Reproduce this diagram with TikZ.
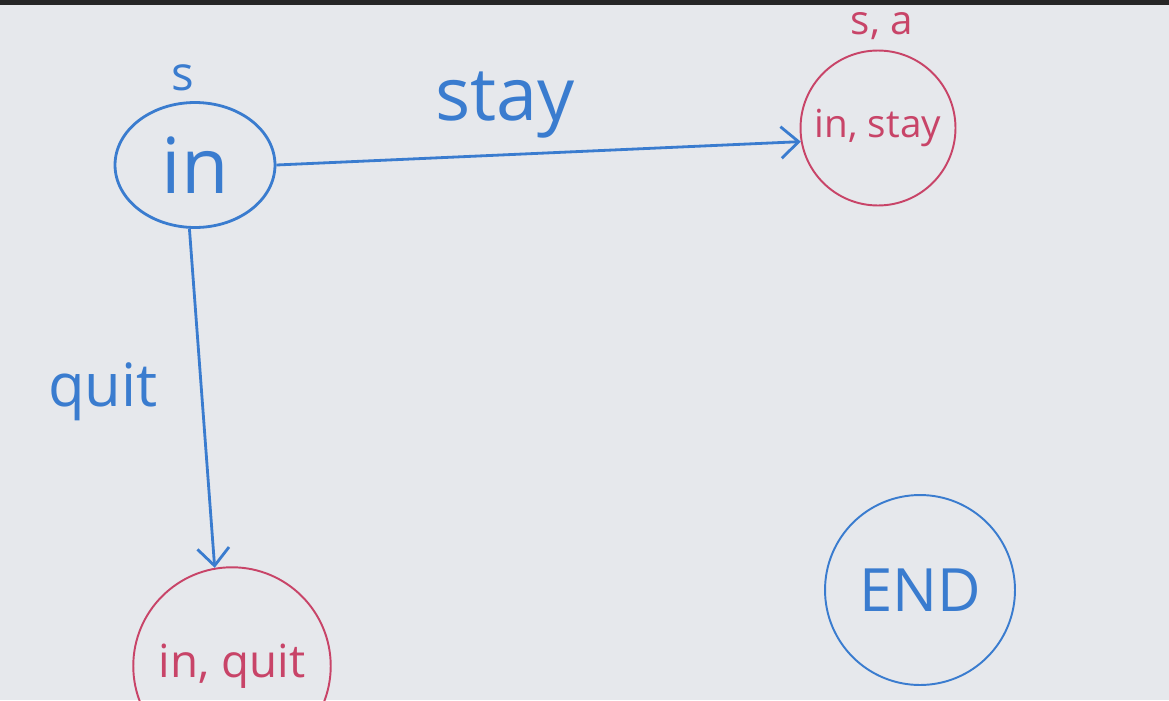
\documentclass[tikz,border=0pt]{standalone}
\usepackage{fontspec}
\setmainfont{Open Sans}
\usetikzlibrary{shapes.geometric,arrows.meta}
\definecolor{boardbg}{HTML}{E6E8EC}
\definecolor{penblue}{HTML}{3A7CCF}
\definecolor{penred}{HTML}{C84468}
\begin{document}
\begin{tikzpicture}[
    x=0.02cm, y=-0.02cm,
    bluestate/.style={draw=penblue, text=penblue, line width=1.6pt, inner sep=0pt},
    redstate/.style={circle, draw=penred, text=penred, line width=1.1pt, inner sep=0pt},
    bluelabel/.style={text=penblue, inner sep=0pt},
    redlabel/.style={text=penred, inner sep=0pt},
    move/.style={draw=penblue, line width=1.6pt, -{Straight Barb[length=10pt,width=18pt]}}
    ]
    % Tabule
    \fill[boardbg] (0,0) rectangle (1169,700);
    \fill[black!85] (0,0) rectangle (1169,5);
    \useasboundingbox (0,0) rectangle (1169,700);

    % Stavy
    \node[bluestate, ellipse, minimum width=3.2cm, minimum height=2.5cm,
        font=\fontsize{44}{44}\selectfont] (in) at (195,165) {in};
    \node[redstate, minimum size=3.1cm, font=\fontsize{22}{22}\selectfont]
        (instay) at (878,128) {in, stay};
    \node[redstate, minimum size=3.95cm, font=\fontsize{26}{26}\selectfont]
        (inquit) at (232,666) {in, quit};
    \node[bluestate, circle, minimum size=3.8cm, line width=1.1pt,
        font=\fontsize{34}{34}\selectfont] (end) at (920,590) {END};

    % Popisky
    \node[bluelabel, font=\fontsize{27}{27}\selectfont] (s) at (183,78) {s};
    \node[redlabel, font=\fontsize{23}{23}\selectfont] (sa) at (882,26) {s, a};
    \node[bluelabel, font=\fontsize{42}{42}\selectfont] (stay) at (505,105) {stay};
    \node[bluelabel, font=\fontsize{34}{34}\selectfont] (quit) at (103,392) {quit};

    % Akce
    \draw[move] (in.east) -- (instay.190);
    \draw[move] (in.265) -- (inquit.100);

\end{tikzpicture}
\end{document}
